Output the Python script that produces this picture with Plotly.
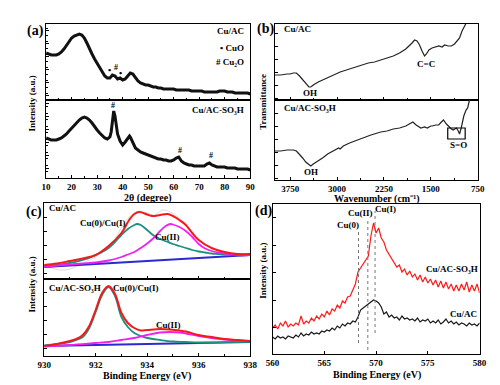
import plotly.graph_objects as go

W, H = 500, 385
FONT = "Liberation Serif"

# ---------------- (a) XRD ----------------
TWO_THETA_A = list(range(10, 91))
XRD_CUAC = [47, 46, 45, 45, 45, 46, 48, 51, 55, 59, 62, 64, 65, 66, 65, 62, 57, 51, 46, 41,
            37, 32, 28, 24, 22, 22, 25, 24, 21, 22, 20, 21, 24, 27, 26, 22, 19, 17, 16, 15,
            15, 14, 13, 13, 12, 12, 11, 11, 11, 11, 11, 10, 10, 10, 10, 10, 10, 9, 9, 9,
            9, 9, 8, 8, 8, 8, 8, 8, 9, 9, 9, 8, 8, 8, 7, 7, 7, 7, 7, 7, 6]
TWO_THETA_B = (list(range(10, 36)) + [35.5, 36, 36.5, 37, 37.5, 38, 39, 40, 41, 42, 42.7, 43, 44, 45]
               + list(range(46, 91)))
XRD_CUAC_SO3H = ([40, 39, 38, 38, 38, 39, 40, 42, 44, 47, 50, 53, 56, 58, 60, 61, 60, 58, 55, 51,
                  48, 45, 42, 40, 39, 41]
                 + [46, 58, 67, 62, 52, 44, 37, 33, 36, 40, 42, 41, 35, 30]
                 + [28, 26, 25, 24, 23, 22, 21, 20, 19, 19, 18, 18, 17, 17, 18, 20, 21, 17, 15, 14,
                    13, 13, 12, 12, 12, 12, 12, 14, 15, 13, 12, 11, 11, 11, 11, 10, 10, 10, 10, 9,
                    9, 9, 9, 9, 8])

# ---------------- (b) FTIR ----------------
WN_TOP = [4000, 3900, 3800, 3750, 3700, 3650, 3600, 3550, 3500, 3450, 3420, 3380, 3300, 3200, 3100,
          3000, 2950, 2900, 2800, 2700, 2600, 2500, 2400, 2300, 2200, 2100, 2000, 1900, 1800, 1760,
          1720, 1680, 1640, 1600, 1570, 1530, 1480, 1420, 1370, 1320, 1280, 1220, 1170, 1120, 1080,
          1040, 1000, 960, 920, 880, 850]
FTIR_CUAC = [25, 25, 26, 26, 27, 27, 24, 20, 16, 13, 13, 15, 18, 21, 24,
             27, 28, 29, 31, 33, 35, 37, 38, 40, 42, 44, 47, 51, 57, 60,
             59, 55, 49, 44, 46, 50, 52, 53, 54, 53, 55, 54, 54, 56, 59,
             62, 69, 75, 80, 84, 87]
WN_BOT = [4000, 3900, 3800, 3750, 3700, 3650, 3600, 3550, 3500, 3450, 3420, 3380, 3300, 3232, 3150,
          3050, 2974, 2950, 2900, 2800, 2716, 2600, 2458, 2300, 2200, 2100, 2000, 1900, 1800, 1787,
          1735, 1700, 1658, 1600, 1555, 1500, 1477, 1420, 1374, 1330, 1297, 1250, 1220, 1170, 1142,
          1090, 1060, 1040, 1013, 972, 936, 910, 885, 850]
FTIR_CUAC_SO3H = [29, 29, 30, 30, 30, 29, 26, 22, 18, 15, 14, 16, 19, 22, 26,
                  29, 32, 31, 34, 37, 39, 42, 45, 48, 49, 51, 52, 54, 57, 58,
                  55, 54, 52, 53, 52, 54, 54, 55, 55, 58, 60, 56, 54, 51, 50,
                  52, 49, 46, 52, 64, 70, 72, 79, 85]
SO_BOX_WN = [1229, 950]
SO_BOX_T = [41, 52]

# ---------------- (c) XPS Cu 2p ----------------
BE_C_BASE = [930, 932, 934, 936, 938]
C1_BASE = [12, 15, 18, 21, 24]
BE_C1_CU0 = [930, 930.25, 930.5, 930.75, 931, 931.25, 931.5, 931.75, 932, 932.25, 932.5, 932.75,
             933, 933.25, 933.5, 933.6, 933.75, 934, 934.25, 934.5, 934.75, 935, 935.25, 935.5,
             935.75, 936, 936.25, 936.5, 936.75, 937, 937.5, 938]
C1_CU0 = [13, 13.5, 14, 15, 16, 17.5, 19, 21, 24, 27, 31, 37,
          44, 50, 54, 55, 54, 49, 43.5, 40, 37.5, 35, 33, 31,
          29, 27.5, 26.5, 25.5, 25, 24.5, 24.3, 24.3]
BE_C1_CU2 = [930, 930.5, 931, 931.5, 932, 932.5, 932.75, 933, 933.25, 933.5, 933.75, 934, 934.25,
             934.5, 934.75, 934.9, 935, 935.25, 935.5, 935.75, 936, 936.25, 936.5, 936.75, 937,
             937.5, 938]
C1_CU2 = [12.5, 13.5, 14.5, 15.5, 16.5, 18.5, 20, 22, 24.5, 27, 31, 35.5, 41,
          48, 53.5, 55, 54.5, 52, 48, 42, 35, 30.5, 28, 26.5, 25.5,
          24.5, 24]
BE_C1_FIT = [930, 930.5, 931, 931.5, 932, 932.5, 933, 933.3, 933.5, 933.7, 934, 934.2, 934.5,
             934.8, 935, 935.25, 935.5, 935.75, 936, 936.5, 937, 937.5, 938]
C1_FIT = [14, 15.5, 18, 20.5, 24, 33, 46, 59, 65, 67, 64.5, 63, 64,
          65, 63, 59, 54, 46, 39, 31, 27, 25, 25]
BE_C1_RAW = [930, 930.3, 930.6, 931, 931.3, 931.6, 932, 932.4, 932.8, 933.1, 933.4, 933.7, 934,
             934.3, 934.6, 934.9, 935.2, 935.5, 935.8, 936.1, 936.5, 937, 937.5, 937.8, 938]
C1_RAW = [13, 11, 9, 10, 13, 17, 22, 30, 42, 56, 64, 68, 66,
          64, 69, 67, 62, 55, 45, 37, 31, 27, 24, 22, 25]

C2_BASE = [10, 11, 12, 13, 14]
BE_C2_CU0 = [930, 930.5, 931, 931.25, 931.5, 931.75, 932, 932.25, 932.5, 932.75, 933, 933.25,
             933.5, 933.75, 934, 934.5, 935, 935.5, 936, 937, 938]
C2_CU0 = [10.5, 12, 14, 16, 19, 28, 44, 61, 69, 60, 39, 29,
          23, 20, 18, 16, 14.5, 14, 13.5, 13.8, 14.2]
BE_C2_CU2 = [930, 931, 932, 932.5, 933, 933.5, 934, 934.5, 934.9, 935.25, 935.5, 936, 936.5,
             937, 937.5, 938]
C2_CU2 = [9.5, 11, 13, 14, 16, 18, 21, 23.5, 24, 23.5, 22.5, 20, 18,
          16.5, 15.5, 15]
BE_C2_FIT = [930, 930.5, 931, 931.25, 931.5, 931.75, 932, 932.25, 932.5, 932.75, 933, 933.25,
             933.5, 933.75, 934, 934.5, 934.9, 935.25, 935.5, 936, 936.5, 937, 937.5, 938]
C2_FIT = [10, 12, 15, 17, 21, 30, 46, 63, 70, 62, 43, 33,
          28, 25.5, 26, 27, 26.5, 25.5, 24.5, 21, 19, 17, 16, 15]

# ---------------- (d) Cu LMM ----------------
BE_D = [560.0, 560.25, 560.5, 560.75, 561.0, 561.25, 561.5, 561.75, 562.0, 562.25, 562.5, 562.75,
        563.0, 563.25, 563.5, 563.75, 564.0, 564.25, 564.5, 564.75, 565.0, 565.25, 565.5, 565.75,
        566.0, 566.25, 566.5, 566.75, 567.0, 567.25, 567.5, 567.75, 568.0, 568.25, 568.5, 568.75,
        569.0, 569.25, 569.5, 569.75, 570.0, 570.25, 570.5, 570.75, 571.0, 571.25, 571.5, 571.75,
        572.0, 572.25, 572.5, 572.75, 573.0, 573.25, 573.5, 573.75, 574.0, 574.25, 574.5, 574.75,
        575.0, 575.25, 575.5, 575.75, 576.0, 576.25, 576.5, 576.75, 577.0, 577.25, 577.5, 577.75,
        578.0, 578.25, 578.5, 578.75, 579.0, 579.25, 579.5, 579.75, 580.0]
LMM_CUAC_SO3H = [26, 29, 25, 31, 28, 33, 27, 30, 28, 31, 29, 38,
                 30, 33, 31, 36, 33, 38, 35, 40, 37, 43, 39, 45,
                 43, 49, 46, 53, 51, 57, 58, 65, 70, 82, 86, 90,
                 93, 98, 118, 131, 121, 126, 116, 112, 104, 100, 95, 92,
                 87, 89, 82, 85, 79, 83, 77, 80, 74, 79, 72, 77,
                 71, 75, 69, 74, 67, 73, 66, 72, 65, 70, 63, 69,
                 63, 70, 64, 72, 62, 69, 63, 70, 61]
LMM_CUAC = [17, 15, 18, 16, 17, 15, 18, 17, 16, 19, 17, 21,
            18, 20, 19, 22, 20, 21, 20, 23, 22, 24, 23, 26,
            24, 28, 26, 30, 28, 31, 30, 33, 32, 37, 44, 46,
            48, 50, 52, 54, 53, 51, 47, 40, 42, 37, 39, 36,
            37, 34, 38, 35, 36, 34, 35, 33, 36, 32, 34, 33,
            35, 31, 33, 31, 34, 30, 32, 35, 31, 33, 30, 32,
            29, 31, 30, 28, 31, 29, 30, 28, 31]
LMM_PEAKS = [568.3, 569.2, 569.9]
LMM_PEAK_NAMES = ["Cu(0)", "Cu(II)", "Cu(I)"]

SO3H = "Cu/AC-SO\u2083H"


def dx(x0, x1):
    return [x0 / W, x1 / W]


def dy(y0, y1):
    return [1 - y1 / H, 1 - y0 / H]


TICKFONT = dict(family=FONT, size=9, color="black", weight="bold")


def xax(domain, anchor, rng, labels=True, **kw):
    d = dict(domain=domain, anchor=anchor, range=rng, showline=True, linecolor="black",
             linewidth=1, mirror=True, ticks="inside", ticklen=3, tickcolor="black",
             showgrid=False, zeroline=False, showticklabels=labels, tickfont=TICKFONT)
    d.update(kw)
    return d


def yax(domain, anchor, rng, **kw):
    d = dict(domain=domain, anchor=anchor, range=rng, showline=True, linecolor="black",
             linewidth=1, mirror=True, ticks="inside", ticklen=3, tickcolor="black",
             showgrid=False, zeroline=False, showticklabels=False)
    d.update(kw)
    return d


fig = go.Figure()


def line(x, y, ax, color, width, shape="linear"):
    fig.add_trace(go.Scatter(x=x, y=y, xaxis="x" + ax, yaxis="y" + ax, mode="lines",
                             line=dict(color=color, width=width, shape=shape), showlegend=False,
                             hoverinfo="skip"))


# (a)
line(TWO_THETA_A, XRD_CUAC, "", "#111111", 3)
line(TWO_THETA_B, XRD_CUAC_SO3H, "2", "#111111", 3)
# (b)
line(WN_TOP, FTIR_CUAC, "3", "#222222", 1.2)
line(WN_BOT, FTIR_CUAC_SO3H, "4", "#222222", 1.2)
# (c)
line(BE_C1_RAW, C1_RAW, "5", "#cfcfcf", 0.8, "spline")
line(BE_C_BASE, C1_BASE, "5", "#2a2ad0", 2)
line(BE_C1_CU0, C1_CU0, "5", "#1f8f80", 1.8, "spline")
line(BE_C1_CU2, C1_CU2, "5", "#f020f0", 1.8, "spline")
line(BE_C1_FIT, C1_FIT, "5", "#f21a1a", 2, "spline")
line(BE_C_BASE, C2_BASE, "6", "#2a2ad0", 2)
line(BE_C2_CU0, C2_CU0, "6", "#1f8f80", 1.8, "spline")
line(BE_C2_CU2, C2_CU2, "6", "#f020f0", 1.8, "spline")
line(BE_C2_FIT, C2_FIT, "6", "#f21a1a", 2, "spline")
# (d)
line(BE_D, LMM_CUAC_SO3H, "7", "#ff1a1a", 1.2)
line(BE_D, LMM_CUAC, "7", "#1a1a1a", 1.2)

layout = dict(
    width=W, height=H, margin=dict(l=0, r=0, t=0, b=0),
    paper_bgcolor="white", plot_bgcolor="white",
    font=dict(family=FONT, color="black"),
    xaxis=xax(dx(32, 242), "y", [10, 90], labels=False, dtick=10,
              minor=dict(ticks="inside", ticklen=2, dtick=5, tickcolor="black")),
    yaxis=yax(dy(16, 92), "x", [0, 76], dtick=13, tick0=5,
              minor=dict(ticks="inside", ticklen=2, dtick=6.5, tickcolor="black")),
    xaxis2=xax(dx(32, 242), "y2", [10, 90], dtick=10,
               minor=dict(ticks="inside", ticklen=2, dtick=5, tickcolor="black")),
    yaxis2=yax(dy(92, 170), "x2", [0, 78], dtick=13, tick0=10,
               minor=dict(ticks="inside", ticklen=2, dtick=6.5, tickcolor="black")),
    xaxis3=xax(dx(267, 476), "y3", [4000, 750], labels=False,
               tickvals=[3750, 3000, 2250, 1500, 750],
               minor=dict(ticks="inside", ticklen=2, tickvals=[3375, 2625, 1875, 1125],
                          tickcolor="black")),
    yaxis3=yax(dy(16, 92), "x3", [0, 76], dtick=13, tick0=2),
    xaxis4=xax(dx(267, 476), "y4", [4000, 750], tickvals=[3750, 3000, 2250, 1500, 750],
               minor=dict(ticks="inside", ticklen=2, tickvals=[3375, 2625, 1875, 1125],
                          tickcolor="black")),
    yaxis4=yax(dy(92, 172), "x4", [0, 80], dtick=13, tick0=2),
    xaxis5=xax(dx(30, 242), "y5", [930, 938], labels=False, dtick=2,
               minor=dict(ticks="inside", ticklen=2, dtick=1, tickcolor="black")),
    yaxis5=yax(dy(195, 271), "x5", [0, 76], dtick=14, tick0=6),
    xaxis6=xax(dx(30, 242), "y6", [930, 938], dtick=2,
               minor=dict(ticks="inside", ticklen=2, dtick=1, tickcolor="black")),
    yaxis6=yax(dy(271, 348), "x6", [0, 77], dtick=14, tick0=8),
    xaxis7=xax(dx(265, 478), "y7", [560, 580], dtick=5),
    yaxis7=yax(dy(196, 346), "x7", [0, 150], dtick=27.5, tick0=-1),
)
fig.update_layout(**layout)

anns = []


def pa(text, px, py, size=9, xanchor="center", angle=0):
    anns.append(dict(text=text, x=px / W, y=1 - py / H, xref="paper", yref="paper",
                     xanchor=xanchor, yanchor="middle", showarrow=False, textangle=angle,
                     font=dict(family=FONT, size=size, color="black", weight="bold")))


def da(text, x, y, ax, size=9):
    anns.append(dict(text=text, x=x, y=y, xref="x" + ax, yref="y" + ax, xanchor="center",
                     yanchor="middle", showarrow=False,
                     font=dict(family=FONT, size=size, color="black", weight="bold")))


# panel letters
pa("(a)", 21, 23, 14)
pa("(b)", 258, 21, 14)
pa("(c)", 20, 204, 14)
pa("(d)", 256, 203, 14)

# axis titles
pa("2θ (degree)", 137, 190, 10)
pa("Wavenumber (cm\u207b\u00b9)", 372, 191, 10)
pa("Binding Energy (eV)", 136, 368, 10)
pa("Binding Energy (eV)", 372, 367, 10)
pa("Intensity (a.u.)", 18, 95, 9, angle=-90)
pa("Transmittance", 255, 94, 9, angle=-90)
pa("Intensity (a.u.)", 18, 276, 9, angle=-90)
pa("Intensity (a.u.)", 255, 263, 9, angle=-90)

# (a) labels
pa("Cu/AC", 238, 23, 9, xanchor="right")
pa("• CuO", 238, 40, 9, xanchor="right")
pa("# Cu\u2082O", 238, 54, 9, xanchor="right")
pa(SO3H, 238, 102, 9, xanchor="right")
da("•", 34.8, 30, "")
da("#", 37.4, 33, "", 8)
da("•", 39.0, 27, "")
da("#", 36.3, 72, "2", 8)
da("#", 62.4, 28, "2", 8)
da("#", 74.5, 23, "2", 8)

# (b) labels
pa("Cu/AC", 275, 21, 9, xanchor="left")
pa(SO3H, 275, 100, 9, xanchor="left")
pa("OH", 303, 85, 9)
pa("OH", 305, 164, 9)
pa("C=C", 423, 56, 9)
pa("S=O", 456, 137, 9)

# (c) labels
pa("Cu/AC", 33, 200, 9, xanchor="left")
pa("Cu(0)/Cu(I)", 91, 215, 9)
pa("Cu(II)", 157, 229, 9)
pa(SO3H, 33, 280, 9, xanchor="left")
pa("Cu(0)/Cu(I)", 124, 280, 9)
pa("Cu(II)", 158, 317, 9)

# (d) labels
pa(SO3H, 450, 261, 9)
pa("Cu/AC", 461, 306, 9)
label_pos = [(343, 217), (355, 205), (381, 201)]
for name, (px, py) in zip(LMM_PEAK_NAMES, label_pos):
    pa(name, px, py, 9)

fig.update_layout(annotations=anns)

shapes = [dict(type="rect", xref="x4", yref="y4", x0=SO_BOX_WN[0], x1=SO_BOX_WN[1],
               y0=SO_BOX_T[0], y1=SO_BOX_T[1], line=dict(color="black", width=1.2))]
line_extents = [(11, 124), (4, 134), (21, 143)]
for pos, (y0, y1) in zip(LMM_PEAKS, line_extents):
    shapes.append(dict(type="line", xref="x7", yref="y7", x0=pos, x1=pos, y0=y0, y1=y1,
                       line=dict(color="#777777", width=1, dash="dot")))
fig.update_layout(shapes=shapes)

fig.write_html("out.html")
